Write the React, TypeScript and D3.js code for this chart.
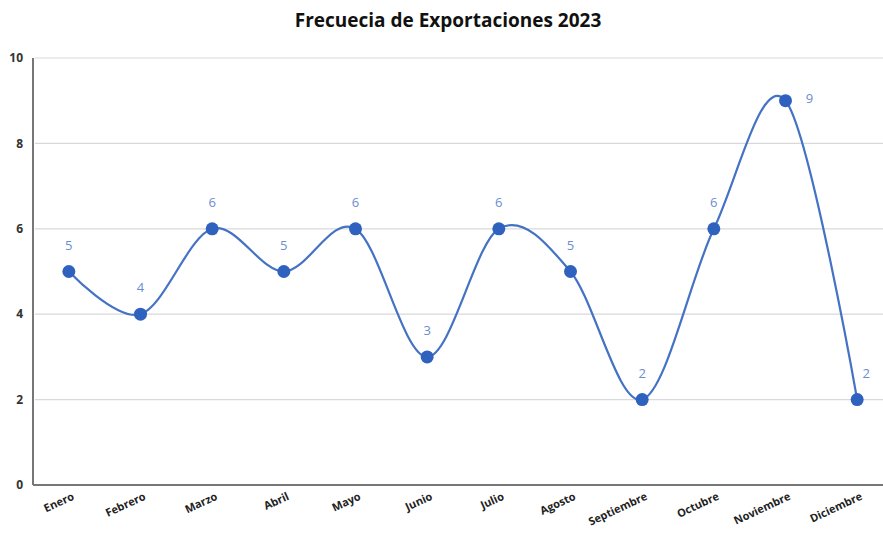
import React from "react";
import * as d3 from "d3";

const months = ["Enero","Febrero","Marzo","Abril","Mayo","Junio","Julio","Agosto","Septiembre","Octubre","Noviembre","Diciembre"];
const values = [5,4,6,5,6,3,6,5,2,6,9,2];
const yTicks = [0,2,4,6,8,10];
const title = "Frecuecia de Exportaciones 2023";

export default function App() {
  const W = 883, H = 540;
  const x = d3.scaleBand<string>().domain(months).range([33, 893]);
  const y = d3.scaleLinear().domain([0, 10]).range([485, 58]);
  const cx = (m: string) => (x(m) as number) + x.bandwidth() / 2;
  const line = d3.line<number>()
    .x((_, i) => cx(months[i]))
    .y(d => y(d))
    .curve(d3.curveCardinal.tension(0));
  const font = "'Open Sans', 'Noto Sans', sans-serif";
  return (
    <svg width={W} height={H} style={{ position: "absolute", left: 0, top: 0, background: "#fff" }} fontFamily={font}>
      <text x={448} y={27} textAnchor="middle" fontSize={19} fontWeight="bold" fill="#111">{title}</text>
      {yTicks.map(t => (
        <g key={t}>
          {t > 0 && <line x1={35} x2={W} y1={y(t)} y2={y(t)} stroke="#d9d9d9" strokeWidth={1.2} />}
          <text x={23} y={y(t)} dy="0.35em" textAnchor="end" fontSize={12} fontWeight="bold" fill="#333">{t}</text>
        </g>
      ))}
      <line x1={33} x2={33} y1={y(10)} y2={y(0)} stroke="#777" strokeWidth={2} />
      <line x1={33} x2={W} y1={y(0)} y2={y(0)} stroke="#777" strokeWidth={2} />
      {months.map(m => (
        <text key={m} transform={`translate(${cx(m) + 6},${y(0) + 14}) rotate(-25)`} textAnchor="end" fontSize={11} fontWeight="bold" fill="#222">{m}</text>
      ))}
      <path d={line(values) || ""} fill="none" stroke="#4472C4" strokeWidth={2.2} />
      {values.map((v, i) => (
        <circle key={i} cx={cx(months[i])} cy={y(v)} r={6.5} fill="#2F62BE" />
      ))}
      {values.map((v, i) => {
        const m = months[i];
        const isNov = m === "Noviembre";
        const isDic = m === "Diciembre";
        const lx = isNov ? cx(m) + 24 : isDic ? cx(m) + 9 : cx(m);
        const ly = isNov ? y(v) + 2 : y(v) - 22;
        return (
          <text key={"l" + i} x={lx} y={ly} textAnchor="middle" fontSize={13} fill="#6A8DD0">{v}</text>
        );
      })}
    </svg>
  );
}
